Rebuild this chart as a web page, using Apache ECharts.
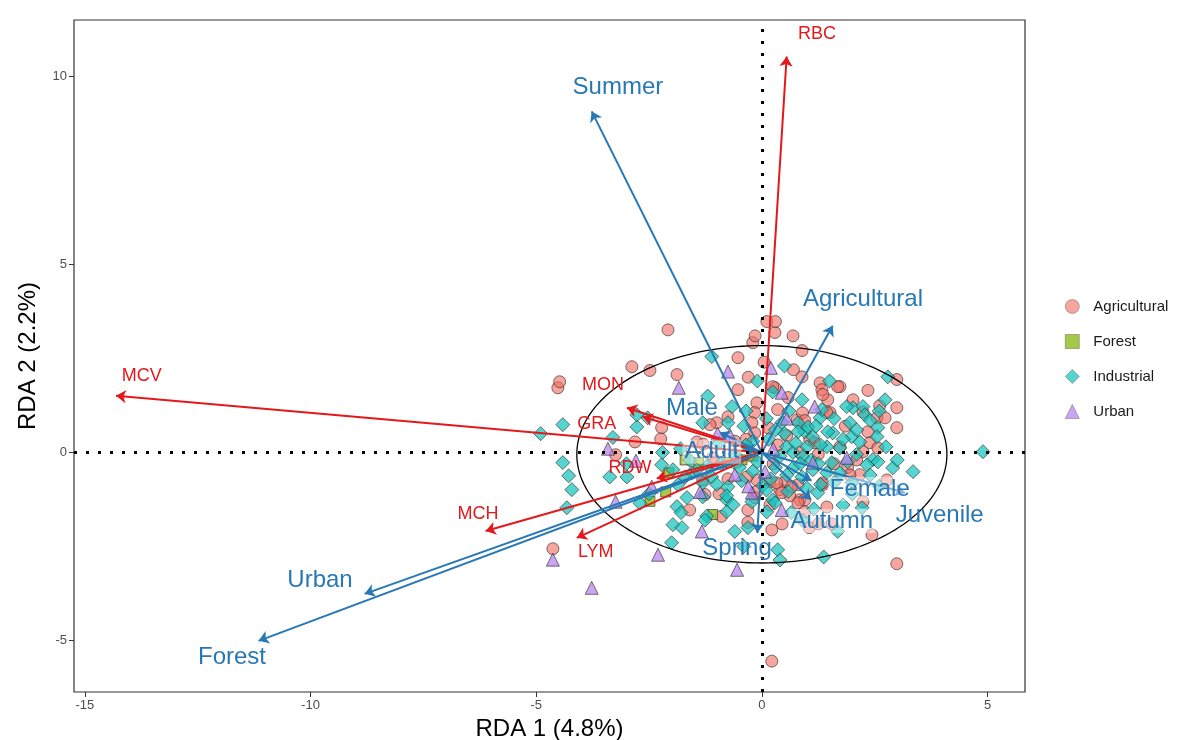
<!DOCTYPE html>
<html><head><meta charset="utf-8">
<script src="https://cdn.jsdelivr.net/npm/echarts@6/dist/echarts.min.js"></script>
<style>html,body{margin:0;padding:0;background:#fff}#c{width:1183px;height:740px}</style>
</head><body><div id="c"></div>
<script>
// ---- Site scores (RDA 1, RDA 2) by land use ----
const agricultural = [
[-2.08,3.26],[-2.88,2.28],[-2.48,2.18],[-1.88,2.07],[-4.52,1.72],[-4.48,1.88],[-3.24,-0.06],[-2.81,0.28],
[-2.22,0.66],[-2.24,0.36],[-1.44,0.28],[-1.6,-1.53],[-4.63,-2.56],[-0.53,2.52],[-0.2,2.92],[0.29,3.19],
[0.11,3.48],[0.3,3.48],[0.69,3.1],[0.89,2.71],[0.89,2.01],[1.29,1.85],[1.73,1.75],[2.99,1.94],
[2.61,1.24],[2.99,1.19],[2.55,0.92],[2.73,0.92],[2.99,0.66],[2.02,1.4],[1.46,1.4],[1.33,1.67],
[1.51,1.06],[1.73,0.15],[2.39,0.26],[2.57,0.12],[2.24,0.02],[2.17,-0.59],[1.35,-0.86],[2.77,-0.73],
[0.84,-1.26],[0.51,-0.78],[0.22,-2.06],[2.44,-2.19],[2.24,-1.31],[0.29,1.72],[-0.53,1.67],[-0.11,1.32],
[-0.16,1.06],[-0.22,0.79],[-0.16,0.52],[0.24,1.75],[0.58,1.46],[0.35,1.14],[0.78,0.87],[1.35,1.54],
[1.44,1.06],[1.06,0.34],[0.35,0.2],[-1.0,0.79],[-1.09,-0.14],[-0.11,-0.73],[0.18,-0.78],[0.4,-0.99],
[0.62,-1.15],[-0.16,-1.2],[-0.31,-1.53],[0.18,-1.4],[0.8,-0.86],[0.95,-1.26],[1.35,-0.81],[1.17,0.26],
[0.84,0.0],[1.68,1.75],[2.24,1.08],[-1.15,0.74],[-1.31,-0.73],[-0.33,-0.65],[-0.11,-1.04],[0.33,-0.81],
[0.44,-1.07],[0.66,-0.91],[0.8,-1.34],[0.95,-1.58],[1.44,-1.45],[2.99,-2.96],[0.22,-5.55],[-1.06,-0.28],
[-1.3,0.22],[-0.6,0.3],[-0.95,-1.1],[-1.26,-1.12],[-0.31,-1.86],[-0.75,0.95],[1.9,-0.4],[1.55,-1.9],
[1.05,-2.0],[0.9,1.05],[1.85,0.7],[2.1,-0.2],
[0.55,0.45],[0.95,0.85],[1.25,-0.05],[0.15,0.65],[-0.35,0.35],[-0.55,-0.25],[-0.75,-0.7],[0.25,-0.3],
[1.6,-0.3],[1.95,-0.6],[2.35,0.55],[0.7,2.2],[0.05,2.4],[-0.3,2.0],[2.35,1.65],[-0.9,-1.7],
[0.45,-1.9],[1.25,-1.9],[-0.15,3.1]
];
const forest = [
[-2.06,-0.54],[-2.13,-1.05],[-2.48,-1.3],[-1.09,-1.65],[-1.4,-0.27],[-0.78,-0.27],[-0.44,-0.2],[-1.7,-0.2],[-0.2,-0.1]
];
const industrial = [
[4.9,0.02],[-4.9,0.5],[-4.41,0.74],[-4.41,-0.27],[-4.28,-0.62],[-4.21,-0.99],[-4.32,-1.47],[-3.37,-0.65],
[-2.99,-0.65],[-2.77,0.68],[-2.77,1.0],[-2.53,0.92],[-2.22,-0.33],[-1.97,-0.46],[-1.86,-0.86],[-1.88,-1.44],
[-1.79,-1.6],[-1.97,-1.92],[-1.77,-2.0],[-1.22,-1.69],[-1.31,-1.18],[-1.11,-0.65],[-0.78,-1.26],[-1.11,2.55],
[-0.66,1.22],[-0.75,0.79],[-1.31,0.79],[-1.55,-0.54],[-1.44,-0.46],[-1.31,-0.81],[-1.66,-1.2],[-1.26,-1.8],
[-0.75,-0.91],[-0.78,-1.15],[-0.64,-1.39],[-0.22,-1.31],[-0.31,-2.0],[-0.78,-1.58],[0.11,-1.58],[0.35,-2.59],
[0.4,-2.86],[1.24,-1.07],[1.68,-2.1],[1.37,-2.78],[0.24,-1.26],[0.58,-1.04],[0.89,-0.65],[0.95,0.55],
[0.24,1.61],[0.89,1.4],[0.8,0.79],[1.29,0.92],[1.57,0.52],[2.02,1.19],[2.17,0.28],[1.0,0.15],
[2.79,2.01],[2.73,1.4],[1.33,1.14],[1.88,1.22],[2.24,1.22],[2.28,1.0],[1.95,0.79],[2.57,0.66],
[2.55,0.42],[1.46,0.55],[1.02,0.68],[0.8,0.55],[1.13,0.42],[1.44,0.15],[1.73,0.12],[1.99,0.42],
[2.46,-0.19],[2.33,-0.33],[2.9,-0.41],[3.35,-0.51],[2.57,-0.25],[0.55,0.15],[0.69,0.0],[0.4,-0.1],
[0.91,-0.11],[1.13,-0.46],[1.44,-0.54],[1.73,-0.54],[1.55,-0.27],[1.3,-0.85],[0.29,-1.34],[2.22,-1.47],
[0.02,-0.88],[-2.2,0.0],[-3.0,-0.3],[-2.5,-1.1],[-1.6,-0.2],[-0.5,-0.4],[-0.2,0.3],[-0.4,0.7],
[0.1,0.9],[0.5,0.5],[0.3,-0.4],[0.7,-0.4],[-0.9,-0.3],[-0.2,-0.5],[1.1,-0.2],[2.0,-0.8],
[2.6,1.1],[-0.95,0.25],[-1.8,0.1],[-0.6,-2.1],[0.9,-1.8],[1.5,1.9],[1.8,-1.4],[2.6,-0.9],
[-1.2,1.5],[-0.35,1.1],
[0.15,0.35],[0.45,0.8],[0.6,1.1],[1.2,0.7],[1.6,0.9],[1.8,0.35],[2.1,0.6],[2.4,0.85],
[2.1,-0.05],[1.25,-0.3],[0.85,-0.3],[0.55,-0.6],[1.0,-0.95],[1.6,-0.8],[2.0,-1.1],[2.4,-0.6],
[2.75,0.15],[3.0,-0.2],[0.2,-0.7],[-0.1,-0.25],[-0.35,0.2],[-0.6,-0.05],[-0.45,-0.75],[-1.0,-0.85],
[-1.2,-0.35],[-1.7,-0.65],[0.3,0.6],[0.75,0.25],[1.3,0.2],[1.9,-0.25],[0.1,-1.0],[0.65,-1.6],
[1.15,-1.5],[-0.1,1.9],[0.5,2.3],[-0.4,-2.5],[-2.7,-1.35],[-3.3,0.4],[-2.0,-2.4]
];
const urban = [
[0.2,2.25],[-0.75,2.15],[-1.84,1.72],[-3.41,0.1],[-3.24,-1.31],[-2.79,-0.22],[-2.44,-0.91],[-1.37,-1.05],
[-1.33,-2.1],[-4.63,-2.85],[-2.3,-2.72],[-3.77,-3.6],[-0.6,-0.59],[-0.22,-1.07],[-0.55,-3.12],[1.17,1.22],
[0.44,1.59],[0.55,0.9],[1.88,-0.14],[0.44,-1.53],[0.07,-0.51],[1.13,-0.27],[-0.71,0.47],[-0.98,0.5],
[-0.3,-0.9],[0.25,0.1]
];

// ---- Response variables (red arrows) ----
const responseNames = ['RBC','MCV','MON','GRA','RDW','MCH','LYM'];
const responseTips = [[0.55,10.53],[-14.31,1.51],[-2.99,1.19],[-2.64,0.95],[-2.33,-0.69],[-6.12,-2.09],[-4.10,-2.27]];
const responseLabelAt = [[1.22,11.12],[-13.74,2.04],[-3.52,1.78],[-3.66,0.76],[-2.92,-0.41],[-6.29,-1.63],[-3.68,-2.64]];

// ---- Explanatory variables (blue arrows) ----
const explanatoryNames = ['Summer','Agricultural','Urban','Forest','Male','Adult','Female','Juvenile','Autumn','Spring'];
const explanatoryTips = [[-3.77,9.07],[1.57,3.37],[-8.8,-3.76],[-11.15,-5.01],[-0.93,0.53],[-0.4,0.12],[1.1,-0.75],[3.17,-1.07],[1.09,-1.26],[-0.1,-2.14]];
const explanatoryLabelAt = [[-3.19,9.7],[2.24,4.06],[-9.79,-3.39],[-11.74,-5.46],[-1.55,1.16],[-1.11,0.02],[2.39,-0.97],[3.94,-1.66],[1.55,-1.82],[-0.55,-2.54]];

// ---- Confidence ellipse: centre x, centre y, semi-axis x, semi-axis y ----
const ellipseParams = [0, -0.05, 4.10, 2.89];

// ---- Axes ----
const xTicks = [-15,-10,-5,0,5];
const yTicks = [-5,0,5,10];
const xTitle = 'RDA 1 (4.8%)';
const yTitle = 'RDA 2 (2.2%)';

const FONT = "'Liberation Sans', Arial, sans-serif";
const RED = '#E3191C';
const BLUE = '#2878B5';
const shaded = ['Adult','Female','Autumn'];

const chart = echarts.init(document.getElementById('c'), null, {renderer:'canvas'});

function pointSeries(name, data, symbol, size, fill) {
  return {
    name, type:'scatter', data, symbol, symbolSize:size, z:2,
    itemStyle:{color:fill, borderColor:'rgba(50,40,40,0.8)', borderWidth:0.8, opacity:1},
    emphasis:{disabled:true}
  };
}

const option = {
  animation:false,
  backgroundColor:'#fff',
  textStyle:{fontFamily:FONT},
  grid:{left:74,right:158,top:20,bottom:48,show:true,borderColor:'#333',borderWidth:1.2,
        containLabel:false, outerBoundsMode:'none'},
  xAxis:{
    type:'value', min:-15.24, max:5.83,
    axisLine:{show:false,onZero:false},
    axisTick:{show:true,length:5,customValues:xTicks,lineStyle:{color:'#333'}},
    axisLabel:{customValues:xTicks,color:'#4d4d4d',fontSize:13,margin:7,fontFamily:FONT},
    splitLine:{show:false},
    name:xTitle, nameLocation:'middle', nameGap:16,
    nameTextStyle:{fontSize:24,color:'#000',fontFamily:FONT}
  },
  yAxis:{
    type:'value', min:-6.37, max:11.5,
    axisLine:{show:false,onZero:false},
    axisTick:{show:true,length:5,customValues:yTicks,lineStyle:{color:'#333'}},
    axisLabel:{customValues:yTicks,color:'#4d4d4d',fontSize:13,margin:7,fontFamily:FONT},
    splitLine:{show:false},
    name:yTitle, nameLocation:'middle', nameGap:34, nameRotate:90,
    nameTextStyle:{fontSize:24,color:'#000',fontFamily:FONT}
  },
  legend:{
    data:['Agricultural','Forest','Industrial','Urban'],
    orient:'vertical', left:1060, top:294,
    itemWidth:14, itemHeight:14, itemGap:20,
    itemStyle:{borderWidth:0.6, borderColor:'rgba(90,80,80,0.7)'},
    textStyle:{fontSize:15,color:'#1a1a1a',fontFamily:FONT,padding:[0,0,0,9]}
  },
  series:[
    pointSeries('Agricultural', agricultural, 'circle', 12, 'rgba(240,110,100,0.62)'),
    pointSeries('Forest', forest, 'rect', 10, 'rgba(150,190,40,0.85)'),
    pointSeries('Industrial', industrial, 'diamond', 14, 'rgba(20,195,190,0.72)'),
    pointSeries('Urban', urban, 'triangle', 13, 'rgba(180,130,240,0.72)'),
    {
      type:'custom', silent:true, z:3,
      data:[ellipseParams],
      renderItem:function(params, api){
        const cx=api.value(0), cy=api.value(1), a=api.value(2), b=api.value(3);
        const pts=[];
        for(let i=0;i<=180;i++){const t=i/180*Math.PI*2; pts.push(api.coord([cx+a*Math.cos(t), cy+b*Math.sin(t)]));}
        return {type:'polyline', shape:{points:pts}, style:{stroke:'#000', fill:null, lineWidth:1.3}};
      }
    },
    {
      type:'scatter', data:[], silent:true, z:3,
      markLine:{
        silent:true, symbol:['none','none'], animation:false,
        label:{show:false},
        lineStyle:{color:'#000', type:[3,9], width:3},
        emphasis:{disabled:true},
        data:[{xAxis:0},{yAxis:0}]
      }
    },
    {
      type:'lines', coordinateSystem:'cartesian2d', silent:true, z:4,
      symbol:['none','arrow'], symbolSize:[0,10],
      lineStyle:{color:RED, width:2, opacity:1},
      data:responseTips.map(t=>({coords:[[0,0],t]}))
    },
    {
      type:'lines', coordinateSystem:'cartesian2d', silent:true, z:4,
      symbol:['none','arrow'], symbolSize:[0,10],
      lineStyle:{color:BLUE, width:2, opacity:1},
      data:explanatoryTips.map(t=>({coords:[[0,0],t]}))
    },
    {
      type:'scatter', silent:true, z:5, symbolSize:0, itemStyle:{opacity:1},
      data:responseNames.map((n,i)=>({name:n, value:responseLabelAt[i]})),
      label:{show:true, position:'inside', formatter:'{b}', color:RED, fontSize:18, fontFamily:FONT}
    },
    {
      type:'scatter', silent:true, z:5, symbolSize:0, itemStyle:{opacity:1},
      data:explanatoryNames.map((n,i)=>({name:n, value:explanatoryLabelAt[i],
        label: shaded.includes(n) ? {backgroundColor:'rgba(255,255,255,0.45)', padding:[0,2]} : {}})),
      label:{show:true, position:'inside', formatter:'{b}', color:BLUE, fontSize:24, fontFamily:FONT}
    }
  ]
};
chart.setOption(option);
</script></body></html>
